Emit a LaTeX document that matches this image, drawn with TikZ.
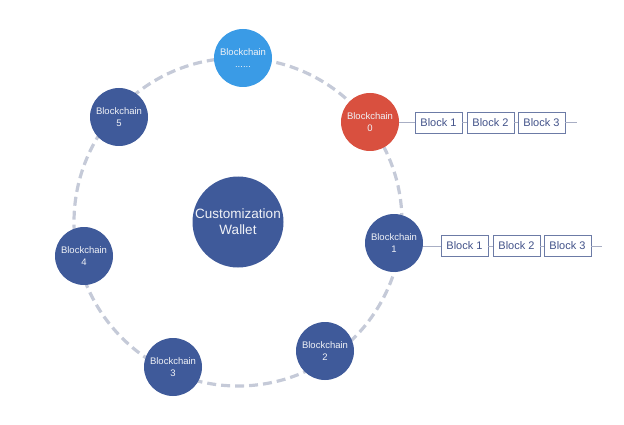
\documentclass[tikz,border=0pt]{standalone}
\usepackage{fontspec}
\setmainfont{Liberation Sans}
\definecolor{darkblue}{HTML}{3F5A9A}
\definecolor{redc}{HTML}{D9503F}
\definecolor{lightblue}{HTML}{3A9BE6}
\definecolor{ringc}{HTML}{C5CAD8}
\definecolor{boxc}{HTML}{6C7BA6}
\definecolor{boxtext}{HTML}{43538A}
\definecolor{linkc}{HTML}{A8AEC4}
\definecolor{labc}{HTML}{F0F2F7}
\tikzset{
  chain/.style={circle, fill=darkblue, minimum size=58pt, inner sep=0pt, align=center,
    text=labc, font=\fontsize{9.5}{12}\selectfont},
  wallet/.style={circle, fill=darkblue, minimum size=91pt, inner sep=0pt, align=center,
    text=labc, font=\fontsize{13.5}{16}\selectfont},
  blockbox/.style={draw=boxc, line width=0.8pt, fill=white, minimum width=47pt, minimum height=21pt,
    inner sep=0pt, text=boxtext, font=\fontsize{11}{13}\selectfont},
  ring/.style={draw=ringc, line width=3.2pt, dash pattern=on 9pt off 5pt},
  link/.style={draw=linkc, line width=0.7pt}
}
\begin{document}
\begin{tikzpicture}[x=1pt,y=-1pt]
\useasboundingbox (0,0) rectangle (624,425);
\coordinate (ctr) at (238,222);
\draw[ring] (ctr) circle [radius=164pt];
\node[wallet] (w) at (238,222) {Customization\\Wallet};
\node[chain, fill=lightblue] (bd) at (243,58) {Blockchain\\......};
\node[chain, fill=redc] (b0) at (370,122) {Blockchain\\0};
\node[chain] (b1) at (394,243) {Blockchain\\1};
\node[chain] (b2) at (325,351) {Blockchain\\2};
\node[chain] (b3) at (173,367) {Blockchain\\3};
\node[chain] (b4) at (84,256) {Blockchain\\4};
\node[chain] (b5) at (119,117) {Blockchain\\5};
% row 0
\node[blockbox] (a1) at (438.5,122.5) {Block 1};
\node[blockbox] (a2) at (490.5,122.5) {Block 2};
\node[blockbox] (a3) at (541.5,122.5) {Block 3};
\coordinate (ae) at (577,122.5);
\draw[link] (b0.east |- a1.west) -- (a1.west);
\draw[link] (a1) -- (a2);
\draw[link] (a2) -- (a3);
\draw[link] (a3.east) -- (ae);
% row 1
\node[blockbox] (c1) at (464.5,246) {Block 1};
\node[blockbox] (c2) at (516.5,246) {Block 2};
\node[blockbox] (c3) at (567.5,246) {Block 3};
\coordinate (ce) at (602,246);
\draw[link] (b1.east |- c1.west) -- (c1.west);
\draw[link] (c1) -- (c2);
\draw[link] (c2) -- (c3);
\draw[link] (c3.east) -- (ce);
\end{tikzpicture}
\end{document}
